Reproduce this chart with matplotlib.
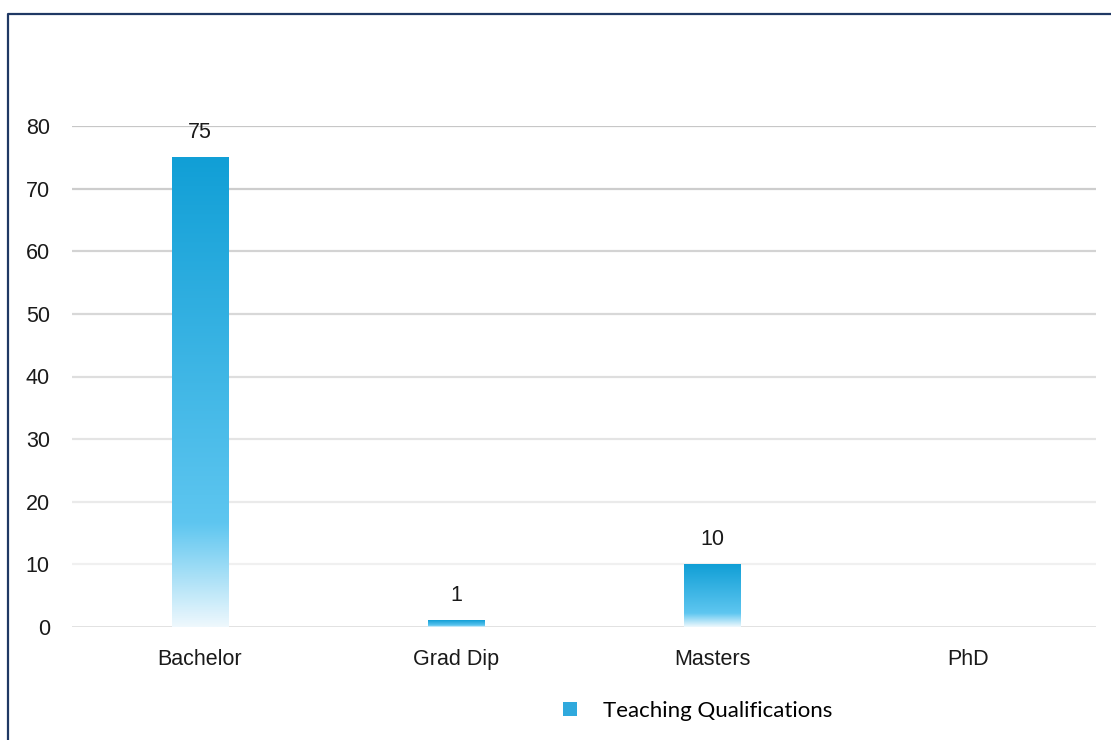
import numpy as np
import matplotlib.pyplot as plt
from matplotlib.colors import LinearSegmentedColormap
from matplotlib.lines import Line2D
import matplotlib.patches as mpatches

categories = ['Bachelor', 'Grad Dip', 'Masters', 'PhD']
values = [75, 1, 10, 0]
series_name = 'Teaching Qualifications'
yticks = [0, 10, 20, 30, 40, 50, 60, 70, 80]

W, H = 1111, 740
fig = plt.figure(figsize=(W / 100, H / 100), dpi=100)
ax = fig.add_axes([72 / W, 1 - 627 / H, (1096 - 72) / W, (627 - 126) / H])

# bar gradient: dark blue at top -> light blue -> almost white at bottom
grad = LinearSegmentedColormap.from_list(
    'bar', [(0.0, '#eef8fd'), (0.22, '#5ec6f0'), (1.0, '#119fd6')])

x = np.arange(len(categories))
bars = ax.bar(x, values, width=0.22, color='none', zorder=3)
gy = np.linspace(0, 1, 256).reshape(-1, 1)
for b in bars:
    if b.get_height() <= 0:
        continue
    ax.imshow(gy, cmap=grad, origin='lower', aspect='auto', zorder=3,
              extent=[b.get_x(), b.get_x() + b.get_width(), 0, b.get_height()])

for xi, v in zip(x, values):
    if v > 0:
        ax.annotate(str(v), (xi, v), xytext=(0, 18), textcoords='offset points',
                    ha='center', va='center', fontsize=15.5, family='Liberation Sans',
                    color='#1a1a1a')

ax.set_xlim(-0.5, len(categories) - 0.5)
ax.set_ylim(0, 80)
ax.set_yticks(yticks)
ax.set_xticks(x)
ax.set_xticklabels(categories)
ax.tick_params(axis='both', length=0, labelsize=15.5, colors='#1a1a1a')
ax.tick_params(axis='y', pad=16)
ax.tick_params(axis='x', pad=16)
for lab in ax.get_xticklabels() + ax.get_yticklabels():
    lab.set_family('Liberation Sans')
for s in ax.spines.values():
    s.set_visible(False)

# gridlines fade from darker at the top to lighter near the bottom
greys = np.linspace(0.94, 0.78, len(yticks) - 1)
for t, g in zip(yticks[1:], greys):
    ax.axhline(t, color=(g, g, g), lw=1.6, zorder=1)
ax.axhline(0, color='#d9d9d9', lw=1.8, zorder=1)

handle = mpatches.Patch(facecolor='#2fa9dd', edgecolor='none')
fig.legend([handle], [series_name], loc='center left',
           bbox_to_anchor=(545 / W, 1 - 711 / H), frameon=False,
           prop={'family': 'Lato', 'size': 16}, handlelength=0.62, handleheight=0.62,
           handletextpad=1.2, borderpad=0.3)

# outer frame (top and left edges visible)
fig.add_artist(Line2D([8 / W, 8 / W, 1.0], [0.0, 1 - 14 / H, 1 - 14 / H],
                      transform=fig.transFigure, color='#1f3864', lw=1.6))

fig.savefig('out.png', dpi=100)
